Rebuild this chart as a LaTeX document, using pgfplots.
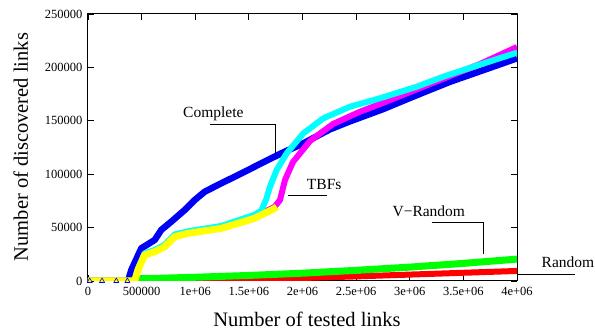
\documentclass[border=0pt]{standalone}
\usepackage{pgfplots}
\pgfplotsset{compat=1.18}
\usepackage{fontspec}
\setmainfont{Liberation Serif}
\definecolor{gpred}{RGB}{255,0,0}
\definecolor{gpgreen}{RGB}{0,255,0}
\definecolor{gpblue}{RGB}{0,0,245}
\definecolor{gpmagenta}{RGB}{255,0,255}
\definecolor{gpcyan}{RGB}{0,255,255}
\definecolor{gpyellow}{RGB}{255,255,0}
\begin{document}
\begin{tikzpicture}
\path[use as bounding box] (-88pt,-51pt) rectangle (507pt,281pt);
\begin{axis}[
  scale only axis,
  width=429pt, height=267pt,
  xmin=0, xmax=4000000, ymin=0, ymax=250000,
  xtick={0,500000,1000000,1500000,2000000,2500000,3000000,3500000,4000000},
  xticklabels={0,500000,1e+06,1.5e+06,2e+06,2.5e+06,3e+06,3.5e+06,4e+06},
  ytick={0,50000,100000,150000,200000,250000},
  yticklabels={0,50000,100000,150000,200000,250000},
  scaled ticks=false,
  tick align=inside,
  xtick pos=both, ytick pos=both,
  major tick length=6pt,
  tick style={black, line width=0.8pt},
  axis line style={line width=1pt},
  ticklabel style={font=\fontsize{12.5}{14}\selectfont},
  xticklabel style={yshift=-3pt},
  yticklabel style={xshift=-2pt},
  /pgf/number format/assume math mode=true,
  line join=round,
]
% Random
\addplot[color=gpred, line width=6pt] coordinates {
(466000,0) (1000000,600) (1500000,1500) (2000000,2800) (2500000,4300) (3000000,6000) (3500000,7700) (4000000,9400)};
% V-Random
\addplot[color=gpgreen, line width=7pt] coordinates {
(466000,2000) (1000000,3500) (1500000,5200) (2000000,7300) (2500000,10000) (3000000,13000) (3500000,16500) (4000000,20500)};
% Complete
\addplot[color=gpblue, line width=6.5pt] coordinates {
(0,0) (373000,0) (404000,10300) (497000,30600) (622000,38400) (683000,47800) (777000,55600) (902000,66500) (995000,75800) (1088000,83600) (1243000,91500) (1399000,99200) (1616000,110200) (1834000,121100) (1977000,127300) (2256000,142000) (2443000,149500) (2753000,161000) (3065000,174000) (3375000,186500) (3702000,198000) (4000000,208500)};
% TBFs magenta
\addplot[color=gpmagenta, line width=6pt] coordinates {
(0,0) (435000,0) (466000,11000) (528000,25500) (622000,28500) (715000,33500) (808000,43000) (932000,46000) (1243000,50800) (1554000,60000) (1741000,69500) (1790000,75800) (1837000,94600) (1911000,111400) (2070000,131100) (2284000,147000) (2536000,158500) (2723000,165700) (3096000,180700) (3375000,191900) (3655000,203200) (4000000,219100)};
% TBFs cyan
\addplot[color=gpcyan, line width=6pt] coordinates {
(0,0) (435000,0) (466000,11500) (528000,26000) (622000,29000) (715000,34000) (808000,43500) (932000,46500) (1243000,51500) (1554000,62000) (1616000,66000) (1660000,76000) (1697000,88300) (1759000,103900) (1853000,119600) (2008000,138300) (2194000,152300) (2443000,163200) (2723000,171100) (3065000,181900) (3313000,191300) (3650000,202500) (4000000,213800)};
% TBFs yellow
\addplot[color=gpyellow, line width=7pt] coordinates {
(0,0) (435000,0) (466000,10300) (528000,24300) (622000,27400) (715000,32100) (808000,41500) (932000,44600) (1243000,49300) (1554000,58700) (1741000,68000) (1760000,69600)};
% start markers
\addplot[only marks, mark=triangle*, mark size=3pt, mark options={draw=gpblue, fill=gpyellow, line width=0.6pt}] coordinates {
(16000,0) (131000,0) (264000,0) (367000,0)};
\end{axis}
\begin{scope}[font=\fontsize{15.5}{17}\selectfont, line width=1pt]
\node[anchor=base] at (125.3pt,163pt) {Complete};
\draw (122pt,156pt) -- (187pt,156pt) -- (187pt,128pt);
\node[anchor=base] at (236.2pt,91pt) {TBFs};
\draw (200pt,85pt) -- (239pt,85pt);
\node[anchor=base] at (340.8pt,64.3pt) {V\textminus Random};
\draw (343.7pt,58.7pt) -- (395.3pt,58.7pt) -- (395.3pt,27pt);
\node[anchor=base] at (480pt,13.7pt) {Random};
\draw (429pt,6.7pt) -- (487pt,6.7pt);
\end{scope}
\node[anchor=base, font=\fontsize{20.5}{23}\selectfont] at (219pt,-45.7pt) {Number of tested links};
\node[anchor=base, rotate=90, font=\fontsize{20.5}{23}\selectfont] at (-60pt,134pt) {Number of discovered links};
\end{tikzpicture}
\end{document}
